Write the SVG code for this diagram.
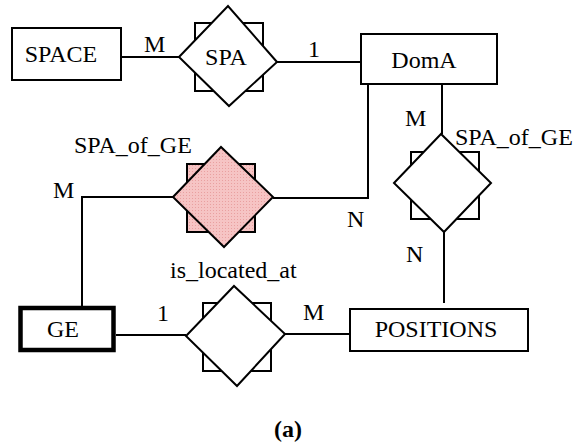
<svg xmlns="http://www.w3.org/2000/svg" width="587" height="446" viewBox="0 0 587 446">
<style>
  .ent { fill: #fff; stroke: #000; stroke-width: 2; }
  .weak { fill: #fff; stroke: #000; stroke-width: 4.5; }
  .sq { fill: #fff; stroke: #000; stroke-width: 2; }
  .dia { fill: #fff; stroke: #000; stroke-width: 2; stroke-linejoin: miter; }
  .pink { fill: url(#mesh); }
  .conn { fill: none; stroke: #000; stroke-width: 2; }
  text { font-family: "Liberation Serif", "Times New Roman", serif; font-size: 24px; fill: #000; }
  .c { text-anchor: middle; }
  .b { font-weight: bold; font-size: 24px; }
</style>
<defs>
  <pattern id="mesh" width="3" height="3" patternUnits="userSpaceOnUse">
    <rect width="3" height="3" fill="#f6c4c4"/>
    <rect width="1" height="1" fill="#e9a0a0"/>
  </pattern>
</defs>
<g id="connectors">
  <line class="conn" x1="121" y1="57" x2="179" y2="57"/>
  <line class="conn" x1="277" y1="62" x2="361" y2="62"/>
  <polyline class="conn" points="368,84 368,198 273,198"/>
  <polyline class="conn" points="173,197 82,197 82,306"/>
  <line class="conn" x1="442" y1="84" x2="442" y2="134"/>
  <line class="conn" x1="444" y1="232" x2="444" y2="303"/>
  <line class="conn" x1="116" y1="335" x2="186" y2="335"/>
  <line class="conn" x1="285" y1="334" x2="350" y2="334"/>
</g>
<g id="SPACE">
  <rect class="ent" x="12" y="28" width="109" height="52"/>
  <text class="c" x="61" y="62">SPACE</text>
</g>
<g id="SPA">
  <rect class="sq" x="195" y="23" width="68" height="68"/>
  <polygon class="dia" points="179,57 228,6 277,62 229,106"/>
  <text class="c" x="226" y="65">SPA</text>
</g>
<g id="DomA">
  <rect class="ent" x="361" y="34" width="136" height="50"/>
  <text class="c" x="424" y="68">DomA</text>
</g>
<g id="SPA_of_GE_left">
  <rect class="sq pink" x="187" y="164" width="68" height="68"/>
  <polygon class="dia pink" points="173,197 221,147 273,197 224,247"/>
</g>
<g id="SPA_of_GE_right">
  <rect class="sq" x="411" y="152" width="68" height="67"/>
  <polygon class="dia" points="394,183 441,134 491,183 444,232"/>
</g>
<g id="GE">
  <rect class="weak" x="20.5" y="308" width="93" height="42"/>
  <text class="c" x="63" y="337">GE</text>
</g>
<g id="is_located_at">
  <rect class="sq" x="203" y="303" width="68" height="68"/>
  <polygon class="dia" points="186,336 234,286 285,334 237,386"/>
</g>
<g id="POSITIONS">
  <rect class="ent" x="350" y="309" width="178" height="42"/>
  <text class="c" x="436" y="337">POSITIONS</text>
</g>
<g id="labels">
  <text x="144" y="52">M</text>
  <text x="308" y="57">1</text>
  <text x="405" y="126">M</text>
  <text x="455" y="145">SPA_of_GE</text>
  <text x="74" y="153">SPA_of_GE</text>
  <text x="53" y="198">M</text>
  <text x="347" y="227">N</text>
  <text x="406" y="262">N</text>
  <text x="170" y="278">is_located_at</text>
  <text x="157" y="321">1</text>
  <text x="303" y="320">M</text>
  <text class="c b" x="288" y="437">(a)</text>
</g>
</svg>
